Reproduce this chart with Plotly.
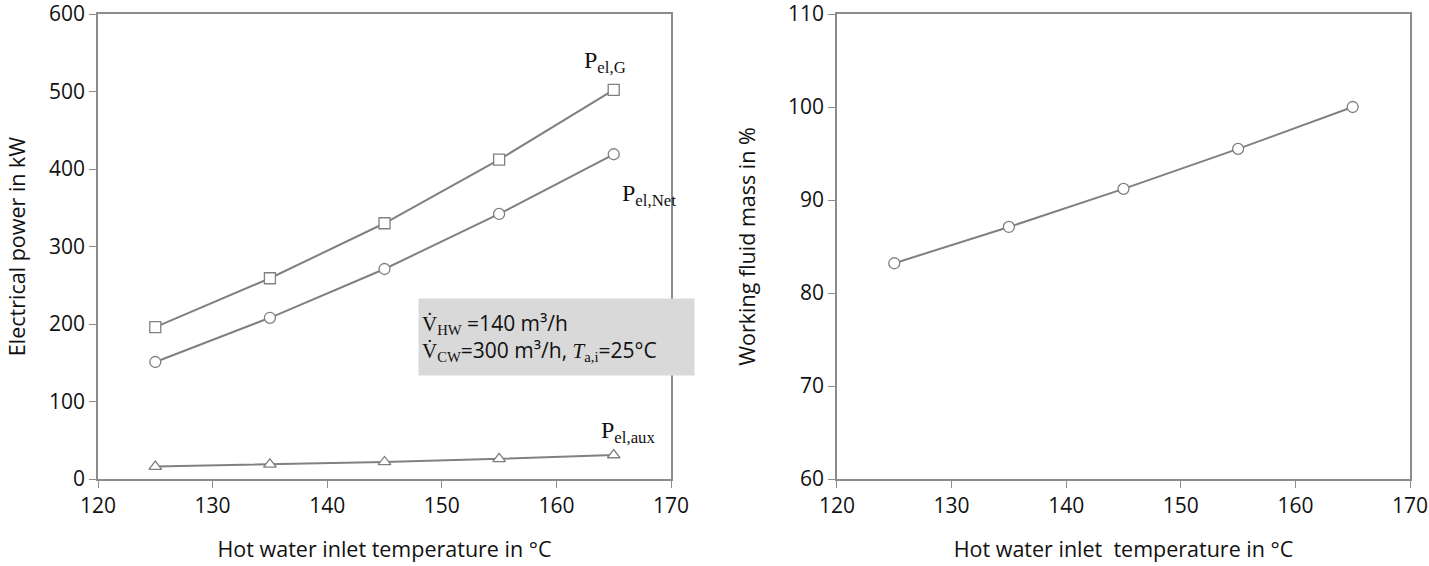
import plotly.graph_objects as go
from plotly.subplots import make_subplots

temps = [125, 135, 145, 155, 165]
p_gross = [196, 259, 330, 412, 502]
p_net = [151, 208, 271, 342, 419]
p_aux = [16, 19, 22, 26, 31]
fluid_mass = [83.2, 87.1, 91.2, 95.5, 100.0]

LINE = "#808080"
AX = "#8c8c8c"
FONT = "Open Sans, Lato, sans-serif"
SERIF = "Liberation Serif, DejaVu Serif, serif"

fig = make_subplots(rows=1, cols=2, horizontal_spacing=0.1265)


def add(x, y, sym, col):
    fig.add_trace(go.Scatter(
        x=x, y=y, mode="lines+markers",
        line=dict(color=LINE, width=2),
        marker=dict(symbol=sym, size=11, color="white", line=dict(color=LINE, width=1.3)),
        showlegend=False, hoverinfo="skip"), row=1, col=col)


add(temps, p_gross, "square", 1)
add(temps, p_net, "circle", 1)
add(temps, p_aux, "triangle-up", 1)
add(temps, fluid_mass, "circle", 2)

axis_common = dict(showline=True, linecolor=AX, linewidth=1.5, mirror=True,
                   ticks="outside", tickcolor=AX, ticklen=7, showgrid=False,
                   zeroline=False, ticklabeloverflow="allow", automargin=False,
                   tickfont=dict(family=FONT, size=21, color="#111"))

fig.update_xaxes(range=[120, 170], dtick=10, **axis_common)
fig.update_yaxes(**axis_common)
tf = dict(family=FONT, size=21.5, color="#111")
fig.update_xaxes(title=dict(text="Hot water inlet temperature in °C", font=tf, standoff=24), row=1, col=1)
fig.update_xaxes(title=dict(text="Hot water inlet  temperature in °C", font=tf, standoff=24), row=1, col=2)
fig.update_yaxes(range=[0, 600], dtick=100, title=dict(text="Electrical power in kW", font=tf, standoff=17), row=1, col=1)
fig.update_yaxes(range=[60, 110], dtick=10, title=dict(text="Working fluid mass in %", font=tf, standoff=26), row=1, col=2)

lab_font = dict(family=SERIF, size=24, color="#111")
fig.add_annotation(x=164.2, y=538, xref="x", yref="y", text="P<sub>el,G</sub>", showarrow=False, font=lab_font)
fig.add_annotation(x=168.1, y=366, xref="x", yref="y", text="P<sub>el,Net</sub>", showarrow=False, font=lab_font)
fig.add_annotation(x=166.3, y=61, xref="x", yref="y", text="P<sub>el,aux</sub>", showarrow=False, font=lab_font)

box_text = (
    "<span style='font-family:Liberation Serif'>V̇<sub>HW</sub></span> =140 m³/h<br>"
    "<span style='font-family:Liberation Serif'>V̇<sub>CW</sub></span>=300 m³/h, "
    "<span style='font-family:Liberation Serif'><i>T</i><sub>a,i</sub></span>=25°C"
)
fig.add_annotation(x=160.0, y=183, xref="x", yref="y", text=box_text, showarrow=False,
                   align="left", width=269, height=70, bgcolor="#d9d9d9", borderpad=3,
                   font=dict(family=FONT, size=21, color="#111"))

fig.update_layout(width=1429, height=566, margin=dict(l=98, r=19, t=14, b=87, autoexpand=False),
                  plot_bgcolor="white", paper_bgcolor="white", hovermode=False)

fig.write_html("out.html", config={"displayModeBar": False},
               post_script="document.body.style.margin='0';")
